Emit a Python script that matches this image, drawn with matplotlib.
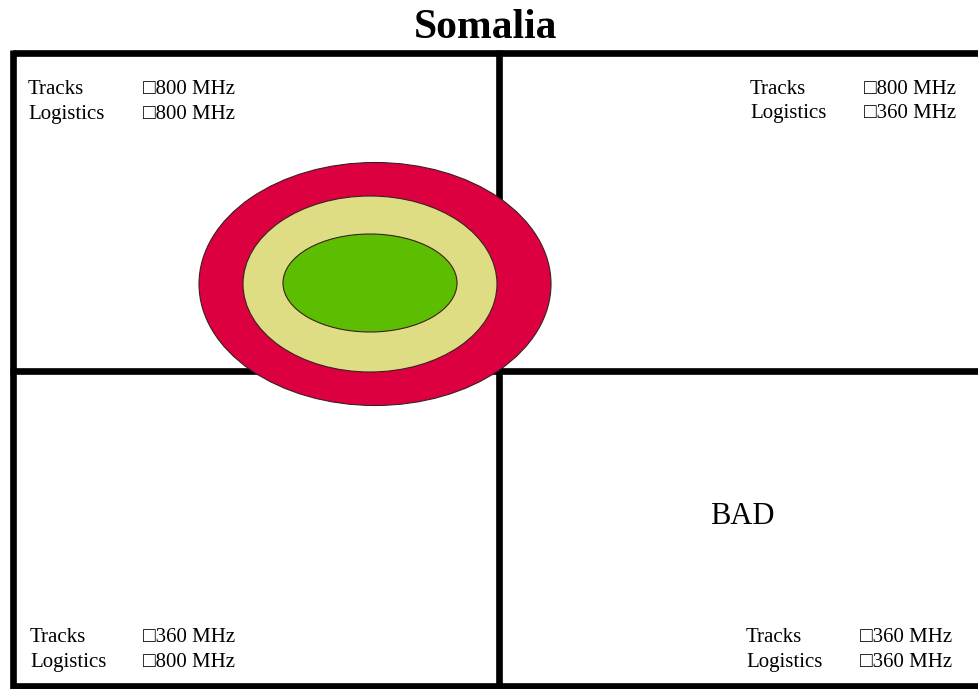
import matplotlib.pyplot as plt
from matplotlib.patches import Ellipse

# zone rings (outer -> inner): colour, width, height in pixels
ring_colors = ['#dc0040', '#dedd84', '#5dbd00']
ring_widths = [352, 254, 174]
ring_heights = [243, 176, 98]
ring_centers = [(375, 284), (370, 284), (370, 283)]

# quadrant labels
rows = ['Tracks', 'Logistics']
freq_tl = ['\u25a1800 MHz', '\u25a1800 MHz']
freq_tr = ['\u25a1800 MHz', '\u25a1360 MHz']
freq_bl = ['\u25a1360 MHz', '\u25a1800 MHz']
freq_br = ['\u25a1360 MHz', '\u25a1360 MHz']

fams = ['Liberation Serif', 'DejaVu Sans']

fig = plt.figure(figsize=(9.79, 6.89), dpi=100)
ax = fig.add_axes([0, 0, 1, 1])
ax.set_xlim(0, 979)
ax.set_ylim(689, 0)
ax.axis('off')

lw = 4.8
# frame and cross lines
ax.plot([13, 979], [53, 53], color='black', lw=lw, solid_capstyle='butt', zorder=1)
ax.plot([13, 979], [686, 686], color='black', lw=lw, solid_capstyle='butt', zorder=1)
ax.plot([13, 13], [50, 689], color='black', lw=lw, solid_capstyle='butt', zorder=1)
ax.plot([499, 499], [50, 689], color='black', lw=lw, solid_capstyle='butt', zorder=1)
ax.plot([10, 979], [371, 371], color='black', lw=lw, solid_capstyle='butt', zorder=1)

for c, w, h, ctr in zip(ring_colors, ring_widths, ring_heights, ring_centers):
    ax.add_patch(Ellipse(ctr, w, h, facecolor=c, edgecolor='#3a2020', lw=0.8, zorder=3))

ax.text(486, 28, 'Somalia', ha='center', va='center', fontsize=30,
        fontweight='heavy', family=fams)

def block(x0, x1, ys, freqs):
    for r, f, y in zip(rows, freqs, ys):
        ax.text(x0, y, r, ha='left', va='baseline', fontsize=15, family=fams)
        ax.text(x1, y, f, ha='left', va='baseline', fontsize=15, family=fams)

block(28, 143, [94, 119], freq_tl)
block(750, 864, [94, 118], freq_tr)
block(30, 143, [642, 667], freq_bl)
block(746, 860, [642, 667], freq_br)

ax.text(742, 516, 'BAD', ha='center', va='center', fontsize=22, family=fams)

fig.savefig('out.png', dpi=100)
